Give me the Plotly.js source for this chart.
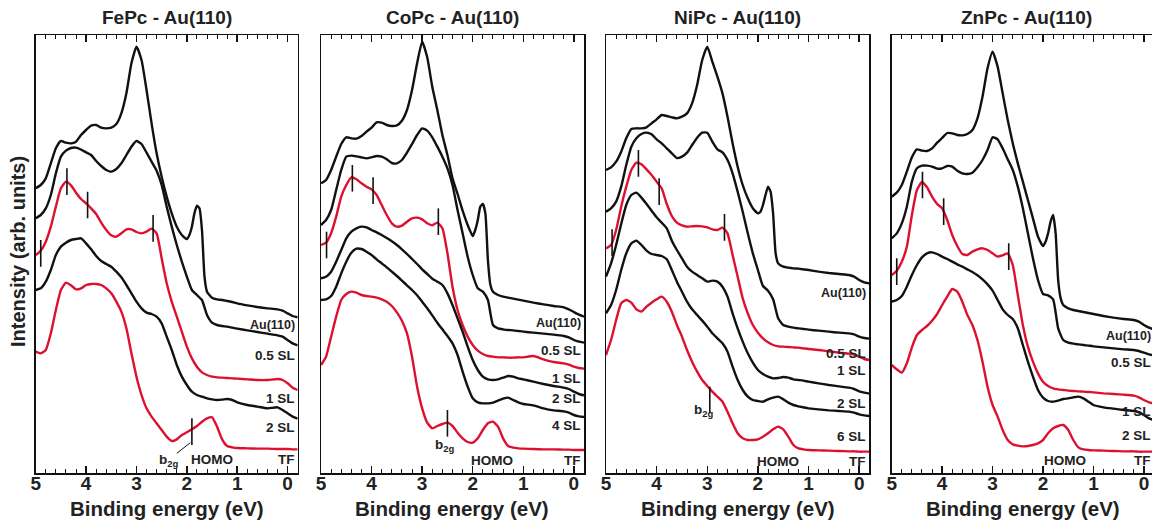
<!DOCTYPE html>
<html><head><meta charset="utf-8">
<script src="https://cdn.plot.ly/plotly-3.0.1.min.js"></script>
<style>html,body{margin:0;padding:0;overflow:hidden;background:#fff}#chart{width:1154px;height:524px}</style>
</head><body><div id="chart"></div>
<script>
// Binding energy grids (eV)
const ENERGY = [5.0,4.9,4.8,4.7,4.6,4.5,4.4,4.3,4.2,4.1,4.0,3.9,3.8,3.7,3.6,3.5,3.4,3.3,3.2,3.1,3.0,2.9,2.8,2.7,2.6,2.5,2.4,2.3,2.2,2.1,2.0,1.9,1.8,1.7,1.6,1.5,1.4,1.3,1.2,1.1,1.0,0.8,0.6,0.4,0.2,0.1,0.0,-0.1,-0.2];
const ENERGY_AU = [5.0,4.9,4.8,4.7,4.6,4.5,4.4,4.3,4.2,4.1,4.0,3.9,3.8,3.7,3.6,3.5,3.4,3.3,3.2,3.1,3.0,2.9,2.8,2.7,2.6,2.5,2.4,2.3,2.2,2.1,2.0,1.95,1.9,1.85,1.8,1.75,1.7,1.65,1.6,1.5,1.4,1.3,1.2,1.1,1.0,0.8,0.6,0.4,0.2,0.1,0.0,-0.1,-0.2];

// FePc - Au(110) intensities (arb. units, offset stacked)
const FEPC_AU = [835,845,865,910,955,977,972,970,975,995,1010,1023,1025,1017,1015,1017,1028,1060,1120,1210,1260,1220,1130,1030,940,870,810,760,720,695,683,695,720,760,783,775,710,570,525,507,502,500,497,494,490,484,479,475,472,468,460,452,448];
const FEPC_05 = [745,755,775,815,880,930,948,956,957,951,943,935,917,902,890,885,893,910,935,960,977,968,942,915,888,845,780,720,665,615,570,530,515,500,455,432,425,422,420,417,414,409,404,399,394,390,380,370,364];
const FEPC_1 = [635,648,675,720,780,835,855,844,822,803,790,775,758,732,710,694,690,700,712,712,704,700,705,714,700,625,550,495,450,405,360,325,300,283,275,270,268,267,266,265,264,262,260,260,263,260,250,237,230];
const FEPC_2 = [530,535,555,590,635,660,672,680,683,685,670,652,632,617,608,600,585,568,545,520,495,475,462,458,450,430,390,350,305,270,245,225,215,210,205,202,200,201,203,200,193,185,180,175,178,170,160,150,144];
const FEPC_TF = [345,340,350,400,470,530,552,544,532,535,545,548,548,545,535,520,495,465,415,340,270,215,175,150,130,110,90,77,82,95,103,112,122,135,145,148,120,82,62,58,56,55,54,54,53,53,53,52,52];

// CoPc - Au(110)
const COPC_AU = [850,860,890,930,968,988,985,984,992,1005,1017,1033,1032,1025,1022,1024,1038,1070,1130,1210,1275,1228,1140,1070,995,935,865,818,768,725,692,710,740,780,788,760,620,545,525,515,510,507,504,501,498,492,487,482,478,472,464,456,450];
const COPC_05 = [725,740,770,830,890,930,933,931,928,925,928,932,930,922,911,910,920,942,968,995,1015,1008,988,960,930,895,845,770,700,630,575,535,525,500,425,415,412,410,409,407,405,402,399,396,392,388,380,375,372];
const COPC_1 = [665,672,700,750,810,845,868,862,850,840,832,815,785,755,730,720,723,735,745,747,742,730,724,732,715,640,540,470,425,390,365,348,338,332,330,328,328,327,327,328,328,332,322,314,310,306,300,296,294];
const COPC_2 = [565,570,585,615,650,685,705,715,720,718,710,703,695,686,676,665,652,638,623,608,592,578,564,555,545,520,485,445,405,360,320,290,270,262,260,262,267,272,270,265,262,255,248,242,237,233,225,218,214];
const COPC_4 = [500,502,512,540,580,615,642,654,653,645,635,622,610,598,585,572,558,544,530,514,495,475,454,432,412,392,370,335,285,240,205,193,190,190,192,198,204,207,200,193,188,184,175,169,166,162,155,151,149];
const COPC_TF = [305,330,390,450,500,518,525,522,515,512,510,507,502,495,482,463,438,400,330,240,175,132,115,122,128,132,122,102,85,74,72,85,110,130,135,120,85,62,57,55,54,53,52,52,51,51,50,50,50];

// NiPc - Au(110)
const NIPC_AU = [890,898,915,945,985,1013,1015,1015,1018,1030,1042,1055,1052,1048,1045,1050,1060,1090,1145,1220,1260,1215,1170,1120,1050,970,900,845,805,775,760,765,785,815,840,825,760,640,610,600,597,595,594,592,590,585,581,578,575,570,560,553,550];
const NIPC_05 = [765,775,795,840,905,960,985,998,1002,997,982,970,955,940,926,930,942,965,987,1002,1002,975,952,943,920,880,825,765,700,640,590,542,528,502,445,425,420,417,415,413,411,408,405,402,400,397,390,386,384];
const NIPC_1 = [655,665,710,780,840,890,912,907,892,875,855,835,788,752,732,724,720,721,722,721,718,712,710,717,700,635,570,505,460,425,402,385,373,365,361,360,359,358,357,355,353,350,346,342,339,336,330,323,320];
const NIPC_2 = [570,610,665,728,785,815,822,807,788,768,748,732,715,678,650,625,600,585,575,565,555,558,555,540,510,460,415,375,340,312,290,278,270,265,266,269,267,262,260,258,255,250,245,241,237,233,226,222,219];
const NIPC_6 = [460,485,530,590,640,670,678,665,648,638,635,632,622,590,555,525,495,472,455,438,420,400,385,370,345,300,260,230,210,200,197,195,202,207,210,202,192,185,181,178,175,172,169,167,165,162,157,154,152];
const NIPC_TF = [335,380,440,490,500,492,472,465,480,492,502,510,495,465,425,390,350,315,285,260,242,225,210,195,165,130,100,85,80,80,82,90,100,112,120,112,90,65,55,52,50,49,48,47,46,46,45,45,45];

// ZnPc - Au(110)
const ZNPC_AU = [810,822,845,885,928,952,948,947,955,972,986,1001,1000,995,994,998,1010,1045,1110,1195,1245,1200,1120,1040,970,910,855,800,745,690,662,675,700,735,755,700,560,505,485,475,470,467,464,461,458,452,447,443,440,435,425,417,412];
const ZNPC_05 = [685,700,730,780,855,895,903,903,900,894,895,902,900,888,880,878,882,898,920,950,988,982,955,922,890,840,775,700,625,560,518,514,502,415,380,372,369,367,365,363,361,358,355,352,350,347,342,337,334];
const ZNPC_1 = [575,588,615,660,755,830,854,838,810,788,775,740,695,662,638,635,645,652,655,650,640,630,634,640,605,515,425,360,315,280,255,242,235,232,230,228,227,226,225,224,223,220,218,216,213,208,200,193,190];
const ZNPC_2 = [495,500,512,540,575,605,628,640,643,638,630,623,615,607,600,592,584,574,562,547,528,500,472,455,443,415,365,315,270,230,207,197,195,198,203,205,208,210,205,195,185,178,174,170,167,163,155,145,140];
const ZNPC_TF = [305,292,282,310,358,395,410,422,438,458,485,510,533,525,495,455,425,380,315,240,185,150,110,80,67,63,61,62,65,70,80,100,115,122,125,110,80,58,52,50,49,48,47,46,46,45,45,45,45];

// Curve labels
const PANEL_TITLES = ['FePc - Au(110)','CoPc - Au(110)','NiPc - Au(110)','ZnPc - Au(110)'];
const FEPC_LABELS = ['Au(110)','0.5 SL','1 SL','2 SL','TF'];
const COPC_LABELS = ['Au(110)','0.5 SL','1 SL','2 SL','4 SL','TF'];
const NIPC_LABELS = ['Au(110)','0.5 SL','1 SL','2 SL','6 SL','TF'];
const ZNPC_LABELS = ['Au(110)','0.5 SL','1 SL','2 SL','TF'];

// Feature markers (energy, intensity on curve)
const FEPC_MARK_E = [4.9,4.38,3.97,2.67,1.9];
const FEPC_MARK_V = [640,855,785,715,105];
const COPC_MARK_E = [4.89,4.38,3.97,2.68,2.5];
const COPC_MARK_V = [665,865,828,735,130];
const NIPC_MARK_E = [4.88,4.36,3.95,2.66,2.95];
const NIPC_MARK_V = [672,910,825,718,200];
const ZNPC_MARK_E = [4.9,4.39,3.97,2.68];
const ZNPC_MARK_V = [585,845,765,630];

const RED = '#dd1030', BLACK = '#111111';
const FONT = 'Liberation Sans, Arial, Helvetica, sans-serif';

const panels = [
  {title: PANEL_TITLES[0], curves: [[ENERGY_AU,FEPC_AU,0],[ENERGY,FEPC_05,0],[ENERGY,FEPC_1,1],[ENERGY,FEPC_2,0],[ENERGY,FEPC_TF,1]],
   labels: FEPC_LABELS, labelY: [425,335,205,118,22], mE: FEPC_MARK_E, mV: FEPC_MARK_V, homo: 1.5, b2g: [2.36,20]},
  {title: PANEL_TITLES[1], curves: [[ENERGY_AU,COPC_AU,0],[ENERGY,COPC_05,0],[ENERGY,COPC_1,1],[ENERGY,COPC_2,0],[ENERGY,COPC_4,0],[ENERGY,COPC_TF,1]],
   labels: COPC_LABELS, labelY: [432,348,265,205,125,20], mE: COPC_MARK_E, mV: COPC_MARK_V, homo: 1.61, b2g: [2.55,65]},
  {title: PANEL_TITLES[2], curves: [[ENERGY_AU,NIPC_AU,0],[ENERGY,NIPC_05,0],[ENERGY,NIPC_1,1],[ENERGY,NIPC_2,0],[ENERGY,NIPC_6,0],[ENERGY,NIPC_TF,1]],
   labels: NIPC_LABELS, labelY: [520,340,288,190,92,15], mE: NIPC_MARK_E, mV: NIPC_MARK_V, homo: 1.6, b2g: [3.08,170]},
  {title: PANEL_TITLES[3], curves: [[ENERGY_AU,ZNPC_AU,0],[ENERGY,ZNPC_05,0],[ENERGY,ZNPC_1,1],[ENERGY,ZNPC_2,0],[ENERGY,ZNPC_TF,1]],
   labels: ZNPC_LABELS, labelY: [392,312,165,95,20], mE: ZNPC_MARK_E, mV: ZNPC_MARK_V, homo: 1.57, b2g: null}
];

const W = 1154, H = 524;
const XDOM = [[35.7/W, 297.7/W],[321/W, 584/W],[606/W, 869.3/W],[891.7/W, 1]];
const YDOM = [1-473/H, 1-35/H];

const traces = [], annotations = [], shapes = [];
const layout = {width: W, height: H, margin: {l:0,r:0,t:0,b:0}, paper_bgcolor:'#fff', plot_bgcolor:'#fff', showlegend:false};

panels.forEach((p, i) => {
  const sx = i ? String(i+1) : '';
  const xa = 'x'+sx, ya = 'y'+sx;
  p.curves.forEach(c => {
    traces.push({x: c[0], y: c[1], xaxis: xa, yaxis: ya, mode: 'lines', hoverinfo: 'skip',
      line: {color: c[2] ? RED : BLACK, width: 2.4, shape: 'spline', smoothing: 0.5}});
  });
  traces.push({x: p.mE, y: p.mV, xaxis: xa, yaxis: ya, mode: 'markers', hoverinfo: 'skip',
    marker: {symbol: 'line-ns-open', size: 19, color: BLACK, line: {width: 1.6, color: BLACK}}});
  layout['xaxis'+sx] = {domain: XDOM[i], range: [5,-0.2], anchor: ya, tickmode: 'linear', tick0: 0, dtick: 1,
    ticks: 'inside', ticklen: 7, tickwidth: 1.5, tickcolor: BLACK, showline: true, linecolor: BLACK, linewidth: 1.5,
    mirror: 'ticks', showgrid: false, zeroline: false, fixedrange: true, ticklabelstandoff: -7,
    tickfont: {family: FONT, size: 19, weight: 'bold', color: '#222'},
    minor: {dtick: 0.2, tick0: 0, ticks: 'inside', ticklen: 4, tickwidth: 1, tickcolor: BLACK, showgrid: false}};
  layout['yaxis'+sx] = {domain: YDOM, range: [-19,1295], anchor: xa, showticklabels: false, ticks: '',
    showline: true, mirror: true, linecolor: BLACK, linewidth: 1.5, showgrid: false, zeroline: false, fixedrange: true};
  // panel title
  annotations.push({xref: 'paper', yref: 'paper', x: (XDOM[i][0]+Math.min(XDOM[i][1], 1152/W))/2 + (i===3 ? 0.004 : 0), y: 1-17/H,
    text: p.title, showarrow: false, xanchor: 'center', yanchor: 'middle', font: {family: FONT, size: 19, weight: 'bold', color: '#222'}});
  // x-axis title
  annotations.push({xref: 'paper', yref: 'paper', x: (XDOM[i][0]+XDOM[i][1])/2, y: 1-508/H,
    text: 'Binding energy (eV)', showarrow: false, xanchor: 'center', yanchor: 'middle', font: {family: FONT, size: 20.5, weight: 'bold', color: '#222'}});
  // curve labels
  p.labels.forEach((t, k) => {
    annotations.push({xref: xa, yref: ya, x: -0.2, y: p.labelY[k], text: t, showarrow: false, xanchor: 'right', yanchor: 'middle', xshift: -1,
      font: {family: FONT, size: t === 'Au(110)' ? 12.5 : 13.5, weight: 'bold', color: '#222'}});
  });
  annotations.push({xref: xa, yref: ya, x: p.homo, y: p.labelY[p.labelY.length-1], text: 'HOMO', showarrow: false,
    xanchor: 'center', yanchor: 'middle', font: {family: FONT, size: 13.5, weight: 'bold', color: '#222'}});
  if (p.b2g) {
    annotations.push({xref: xa, yref: ya, x: p.b2g[0], y: p.b2g[1], text: 'b<sub>2g</sub>', showarrow: false,
      xanchor: 'center', yanchor: 'middle', font: {family: FONT, size: 13.5, weight: 'bold', color: '#222'}});
  }
});
// b2g pointer in FePc panel
shapes.push({type: 'line', xref: 'x', yref: 'y', x0: 2.2, y0: 40, x1: 1.93, y1: 72, line: {color: BLACK, width: 1}});
// y title
annotations.push({xref: 'paper', yref: 'paper', x: 18/W, y: 1-252/H, text: 'Intensity (arb. units)', textangle: -90, showarrow: false,
  xanchor: 'center', yanchor: 'middle', font: {family: FONT, size: 20, weight: 'bold', color: '#222'}});

layout.annotations = annotations;
layout.shapes = shapes;
Plotly.newPlot('chart', traces, layout, {staticPlot: true, displayModeBar: false});
</script>
</body></html>
